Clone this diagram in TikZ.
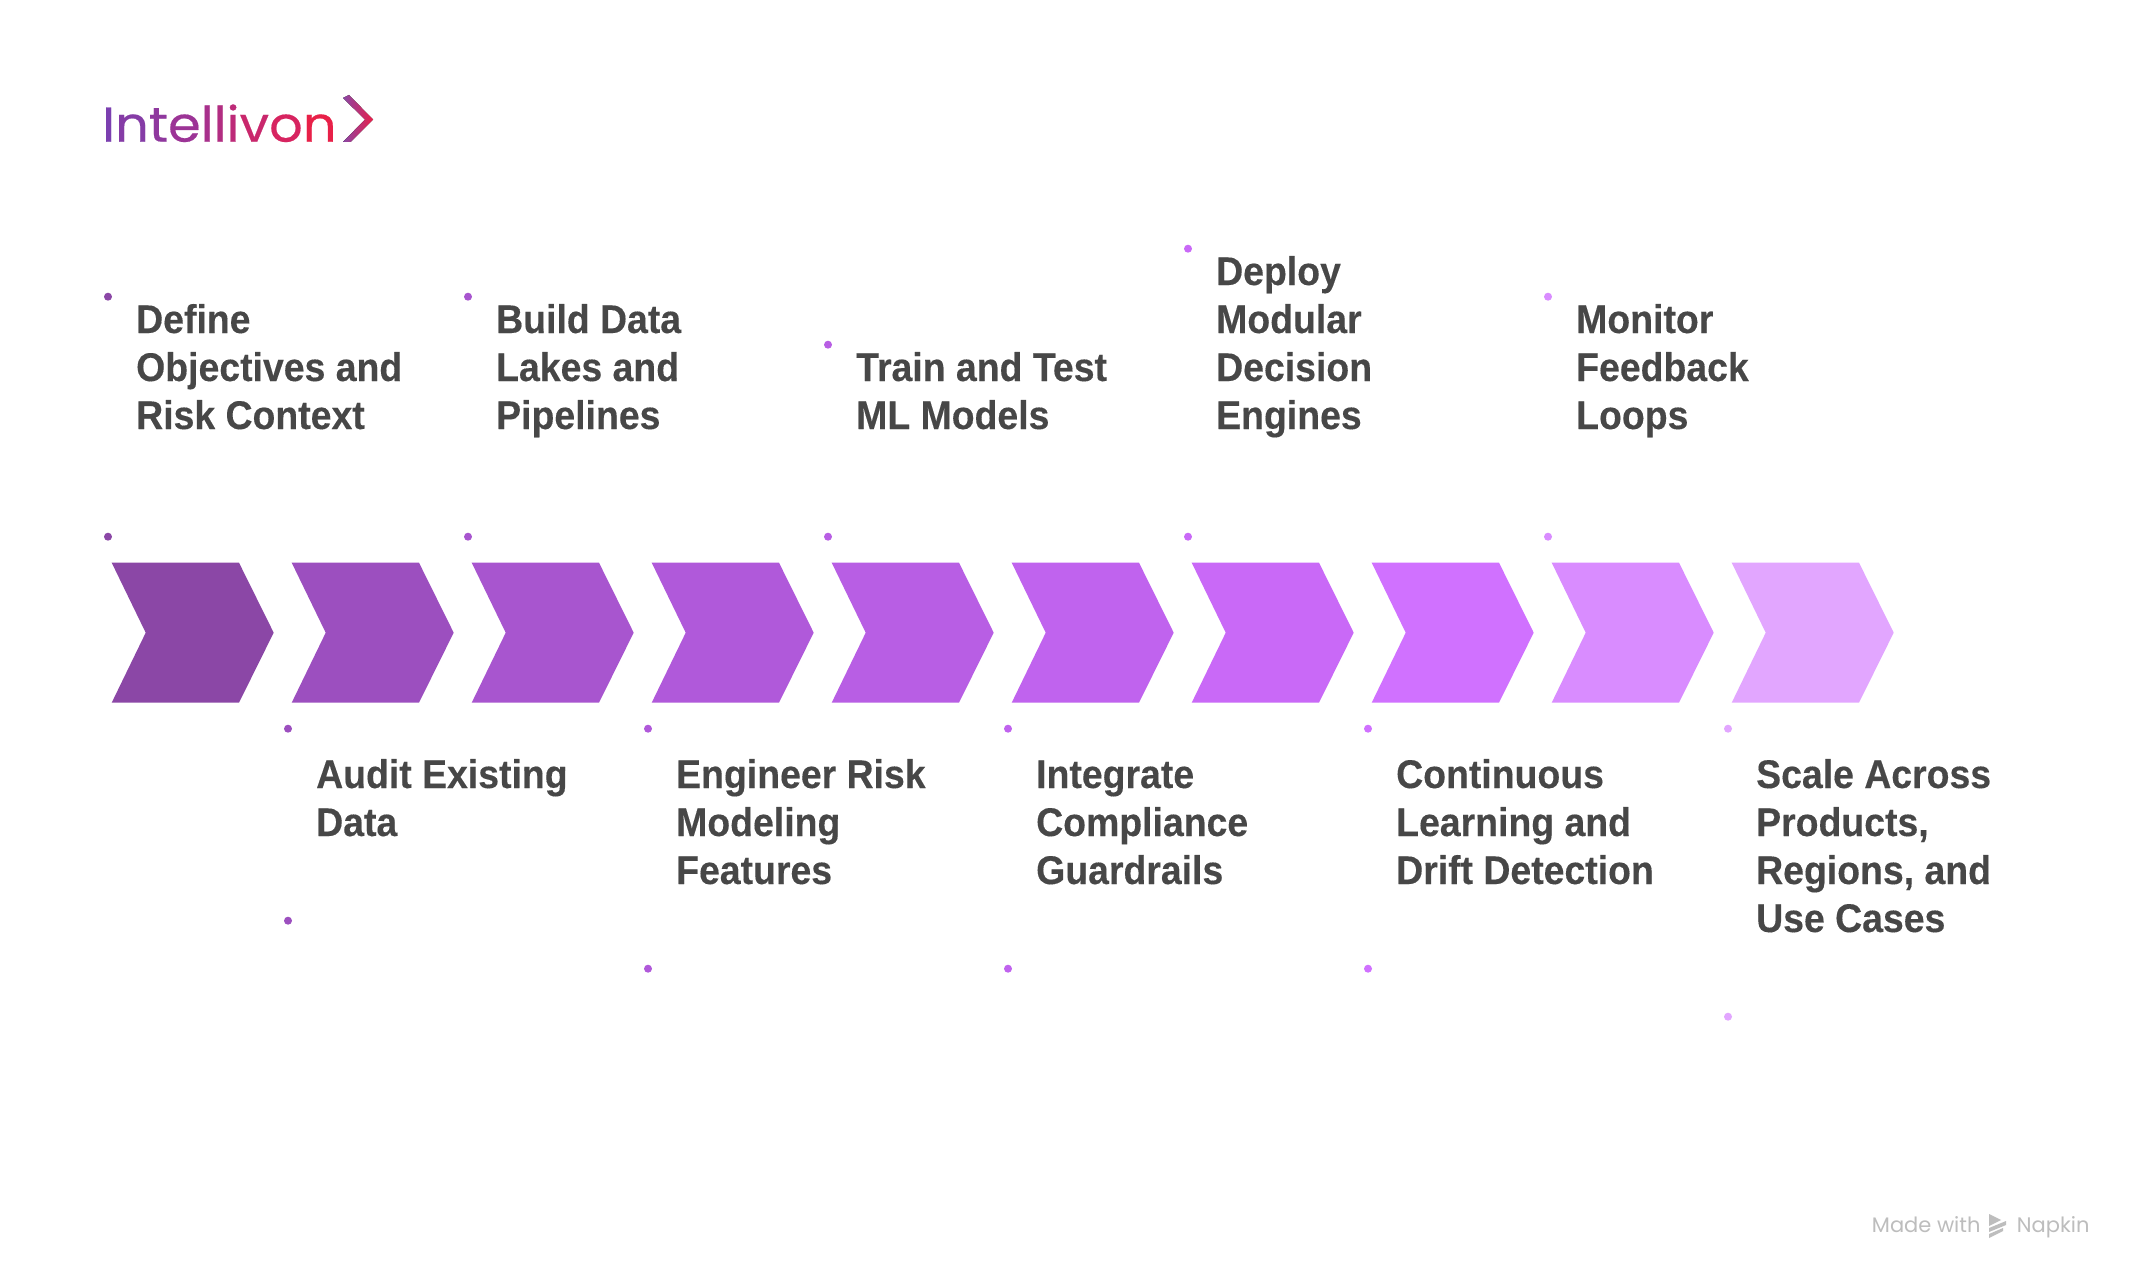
\documentclass[tikz,border=0pt]{standalone}
\usepackage{fontspec}
\setmainfont{Liberation Sans}
\newfontfamily\labelfont{Liberation Sans}[BoldFont={Liberation Sans Bold},BoldFeatures={FakeStretch=0.935,FakeBold=0.25}]
\newfontfamily\logofont{Poppins}[FakeStretch=1.075,FakeBold=0.35]
\newfontfamily\footfont{Poppins}
\usetikzlibrary{calc}

\definecolor{stepa}{HTML}{8B47A6}
\definecolor{stepb}{HTML}{9C4FBF}
\definecolor{stepc}{HTML}{A855CF}
\definecolor{stepd}{HTML}{B059DA}
\definecolor{stepe}{HTML}{B85EE4}
\definecolor{stepf}{HTML}{C063EE}
\definecolor{stepg}{HTML}{C969F7}
\definecolor{steph}{HTML}{D071FF}
\definecolor{stepi}{HTML}{D98CFF}
\definecolor{stepj}{HTML}{E2A6FF}
\definecolor{inktext}{HTML}{474747}
\definecolor{inkfoot}{HTML}{BDBDBD}
\definecolor{logoend}{HTML}{E8204A}

\tikzset{
  label/.style={anchor=base west,inner sep=0pt,align=left,text=inktext,
    font=\labelfont\fontsize{40}{48}\selectfont\bfseries},
  dot/.style={circle,inner sep=0pt,minimum size=8pt},
  foot/.style={anchor=base west,inner sep=0pt,text=inkfoot,
    font=\footfont\fontsize{21}{25}\selectfont},
}

\begin{document}
\begin{tikzpicture}[x=1pt,y=-1pt]

\useasboundingbox[fill=white] (0,0) rectangle (2136,1281);

% logo
\node[anchor=base west,inner sep=0pt,font=\logofont\fontsize{49}{50}\selectfont] (logo) at (102,141.7)
  {\textcolor[HTML]{7B3FB0}{I}\textcolor[HTML]{853CA6}{n}\textcolor[HTML]{8F389E}{t}\textcolor[HTML]{9C3496}{e}\textcolor[HTML]{A8308C}{l}\textcolor[HTML]{B22D82}{l}\textcolor[HTML]{BD2A78}{i}\textcolor[HTML]{C9276C}{v}\textcolor[HTML]{D72460}{o}\textcolor[HTML]{E82048}{n}};
\fill[left color=stepa,right color=logoend] (343,98) -- (349,95) -- (373,119.5) -- (350.5,142) -- (343,142) -- (365,119.5) -- cycle;

% chevrons
\coordinate (A) at (111.7,562.7);
\coordinate (B) at (291.7,562.7);
\coordinate (C) at (471.7,562.7);
\coordinate (D) at (651.7,562.7);
\coordinate (E) at (831.7,562.7);
\coordinate (F) at (1011.7,562.7);
\coordinate (G) at (1191.7,562.7);
\coordinate (H) at (1371.7,562.7);
\coordinate (I) at (1551.7,562.7);
\coordinate (J) at (1731.7,562.7);

\fill[stepa] (A) -- +(127.3,0) -- +(162,70) -- +(127.3,140) -- +(0,140) -- +(34,70) -- cycle;
\fill[stepb] (B) -- +(127.3,0) -- +(162,70) -- +(127.3,140) -- +(0,140) -- +(34,70) -- cycle;
\fill[stepc] (C) -- +(127.3,0) -- +(162,70) -- +(127.3,140) -- +(0,140) -- +(34,70) -- cycle;
\fill[stepd] (D) -- +(127.3,0) -- +(162,70) -- +(127.3,140) -- +(0,140) -- +(34,70) -- cycle;
\fill[stepe] (E) -- +(127.3,0) -- +(162,70) -- +(127.3,140) -- +(0,140) -- +(34,70) -- cycle;
\fill[stepf] (F) -- +(127.3,0) -- +(162,70) -- +(127.3,140) -- +(0,140) -- +(34,70) -- cycle;
\fill[stepg] (G) -- +(127.3,0) -- +(162,70) -- +(127.3,140) -- +(0,140) -- +(34,70) -- cycle;
\fill[steph] (H) -- +(127.3,0) -- +(162,70) -- +(127.3,140) -- +(0,140) -- +(34,70) -- cycle;
\fill[stepi] (I) -- +(127.3,0) -- +(162,70) -- +(127.3,140) -- +(0,140) -- +(34,70) -- cycle;
\fill[stepj] (J) -- +(127.3,0) -- +(162,70) -- +(127.3,140) -- +(0,140) -- +(34,70) -- cycle;

% dots
\node[dot,fill=stepa] (topa) at (108,296.7) {};
\node[dot,fill=stepa] (lowa) at (108,536.7) {};
\node[dot,fill=stepc] (topc) at (468,296.7) {};
\node[dot,fill=stepc] (lowc) at (468,536.7) {};
\node[dot,fill=stepe] (tope) at (828,344.7) {};
\node[dot,fill=stepe] (lowe) at (828,536.7) {};
\node[dot,fill=stepg] (topg) at (1188,248.7) {};
\node[dot,fill=stepg] (lowg) at (1188,536.7) {};
\node[dot,fill=stepi] (topi) at (1548,296.7) {};
\node[dot,fill=stepi] (lowi) at (1548,536.7) {};
\node[dot,fill=stepb] (topb) at (288,728.7) {};
\node[dot,fill=stepb] (lowb) at (288,920.7) {};
\node[dot,fill=stepd] (topd) at (648,728.7) {};
\node[dot,fill=stepd] (lowd) at (648,968.7) {};
\node[dot,fill=stepf] (topf) at (1008,728.7) {};
\node[dot,fill=stepf] (lowf) at (1008,968.7) {};
\node[dot,fill=steph] (toph) at (1368,728.7) {};
\node[dot,fill=steph] (lowh) at (1368,968.7) {};
\node[dot,fill=stepj] (topj) at (1728,728.7) {};
\node[dot,fill=stepj] (lowj) at (1728,1016.7) {};

% labels, placed by their last line
\node[label] (define) at (136,429) {Define\\Objectives and\\Risk Context};
\node[label] (build) at (496,429) {Build Data\\Lakes and\\Pipelines};
\node[label] (train) at (856,429) {Train and Test\\ML Models};
\node[label] (deploy) at (1216,429) {Deploy\\Modular\\Decision\\Engines};
\node[label] (monitor) at (1576,429) {Monitor\\Feedback\\Loops};
\node[label] (audit) at (316,836) {Audit Existing\\Data};
\node[label] (engineer) at (676,884) {Engineer Risk\\Modeling\\Features};
\node[label] (integrate) at (1036,884) {Integrate\\Compliance\\Guardrails};
\node[label] (continuous) at (1396,884) {Continuous\\Learning and\\Drift Detection};
\node[label] (scale) at (1756,932) {Scale Across\\Products,\\Regions, and\\Use Cases};

% footer
\node[foot] (made) at (1871.7,1232.7) {Made with};
\node[foot] (napkin) at (2016.7,1232.7) {Napkin};
\fill[inkfoot] (1989,1214) -- (2001,1220) -- (1989,1226) -- cycle;
\fill[inkfoot] (1989,1228) -- (2006,1221) -- (2006,1225) -- (1989,1232) -- cycle;
\fill[inkfoot] (1989,1234) -- (2003,1228) -- (2003,1231) -- (1989,1238) -- cycle;

\end{tikzpicture}
\end{document}
